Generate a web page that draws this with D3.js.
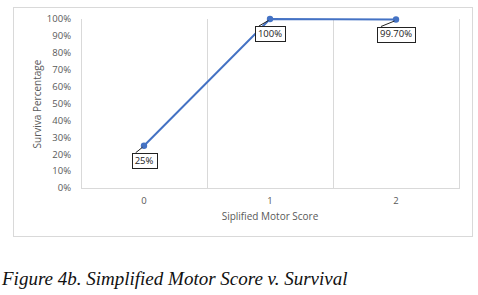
<!DOCTYPE html>
<html>
<head>
<meta charset="utf-8">
<script src="https://cdn.jsdelivr.net/npm/d3@7"></script>
<style>
  html, body { margin: 0; padding: 0; background: #fff; }
  svg { display: block; }
</style>
</head>
<body>
<div id="chart"></div>
<script>
const categories = ['0', '1', '2']
const survival = [25, 100, 99.7]
const pointLabels = ['25%', '100%', '99.70%']
const yTicks = [0, 10, 20, 30, 40, 50, 60, 70, 80, 90, 100]

const xTitle = 'Siplified Motor Score'
const yTitle = 'Surviva Percentage'
const caption = 'Figure 4b. Simplified Motor Score v. Survival'

const width = 478
const height = 295
const plot = { left: 81, right: 459, top: 19, bottom: 188 }
const lineColor = '#4472c4'
const gridColor = '#d9d9d9'
const textColor = '#595959'
const sansFont = '"Open Sans", "Liberation Sans", sans-serif'

const svg = d3
  .select('#chart')
  .append('svg')
  .attr('width', width)
  .attr('height', height)

// chart frame
svg
  .append('rect')
  .attr('x', 13.5)
  .attr('y', 7.5)
  .attr('width', 459)
  .attr('height', 229)
  .attr('fill', 'none')
  .attr('stroke', gridColor)

const x = d3
  .scaleBand()
  .domain(categories)
  .range([plot.left, plot.right])
const y = d3.scaleLinear().domain([0, 100]).range([plot.bottom, plot.top])
const cx = d => x(d) + x.bandwidth() / 2

// vertical gridlines at category boundaries
const edges = categories.map(c => x(c)).concat([plot.right])
svg
  .append('g')
  .selectAll('line')
  .data(edges)
  .join('line')
  .attr('x1', d => Math.round(d) + 0.5)
  .attr('x2', d => Math.round(d) + 0.5)
  .attr('y1', plot.top)
  .attr('y2', plot.bottom)
  .attr('stroke', gridColor)

// x axis line
svg
  .append('line')
  .attr('x1', plot.left)
  .attr('x2', plot.right + 1)
  .attr('y1', plot.bottom + 0.5)
  .attr('y2', plot.bottom + 0.5)
  .attr('stroke', gridColor)

// y tick labels
svg
  .append('g')
  .selectAll('text')
  .data(yTicks)
  .join('text')
  .attr('x', 71)
  .attr('y', d => y(d))
  .attr('dy', '0.35em')
  .attr('text-anchor', 'end')
  .attr('font-family', sansFont)
  .attr('font-size', 9.5)
  .attr('fill', textColor)
  .text(d => `${d}%`)

// x tick labels
svg
  .append('g')
  .selectAll('text')
  .data(categories)
  .join('text')
  .attr('x', d => cx(d))
  .attr('y', 201)
  .attr('dy', '0.35em')
  .attr('text-anchor', 'middle')
  .attr('font-family', sansFont)
  .attr('font-size', 9.5)
  .attr('fill', textColor)
  .text(d => d)

// axis titles
svg
  .append('text')
  .attr('x', (plot.left + plot.right) / 2)
  .attr('y', 216)
  .attr('dy', '0.35em')
  .attr('text-anchor', 'middle')
  .attr('font-family', sansFont)
  .attr('font-size', 10)
  .attr('fill', textColor)
  .text(xTitle)

svg
  .append('text')
  .attr('transform', `translate(37, 104) rotate(-90)`)
  .attr('dy', '0.35em')
  .attr('text-anchor', 'middle')
  .attr('font-family', sansFont)
  .attr('font-size', 10)
  .attr('fill', textColor)
  .text(yTitle)

const points = categories.map((c, i) => ({
  c,
  v: survival[i],
  label: pointLabels[i],
}))

// series line
svg
  .append('path')
  .datum(points)
  .attr('fill', 'none')
  .attr('stroke', lineColor)
  .attr('stroke-width', 2)
  .attr('d', d3.line().x(d => cx(d.c)).y(d => y(d.v)))

svg
  .append('g')
  .selectAll('circle')
  .data(points)
  .join('circle')
  .attr('cx', d => cx(d.c))
  .attr('cy', d => y(d.v))
  .attr('r', 3.2)
  .attr('fill', lineColor)

// data labels with leader lines
const labelGroups = svg
  .append('g')
  .selectAll('g')
  .data(points)
  .join('g')

labelGroups.each(function (d) {
  const g = d3.select(this)
  const px = cx(d.c)
  const py = y(d.v)
  const boxY = py + 7
  const t = g
    .append('text')
    .attr('x', px)
    .attr('y', boxY + 7.5)
    .attr('dy', '0.35em')
    .attr('text-anchor', 'middle')
    .attr('font-family', sansFont)
    .attr('font-size', 9.5)
    .attr('fill', '#222')
    .text(d.label)
  const w = t.node().getComputedTextLength() + 6
  g.insert('rect', 'text')
    .attr('x', Math.round(px - w / 2) + 0.5)
    .attr('y', Math.round(boxY) + 0.5)
    .attr('width', Math.round(w))
    .attr('height', 15)
    .attr('fill', '#fff')
    .attr('stroke', '#222')
    .attr('stroke-width', 1)
  g.insert('line', 'rect')
    .attr('x1', px - w / 2 + 4)
    .attr('y1', boxY)
    .attr('x2', px - 1.5)
    .attr('y2', py + 1.5)
    .attr('stroke', '#222')
    .attr('stroke-width', 1)
})

// figure caption
svg
  .append('text')
  .attr('x', 2)
  .attr('y', 285)
  .attr('font-family', '"Liberation Serif", "DejaVu Serif", serif')
  .attr('font-style', 'italic')
  .attr('font-size', 19)
  .attr('fill', '#111')
  .text(caption)
</script>
</body>
</html>
